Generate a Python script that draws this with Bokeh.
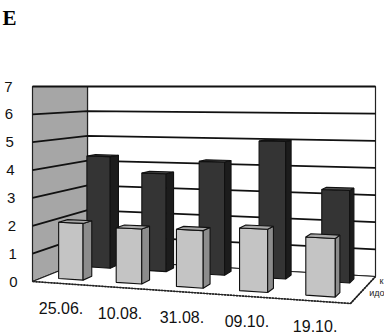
import numpy as np
from bokeh.plotting import figure
from bokeh.models import Range1d
from bokeh.core.properties import value
from bokeh.embed import file_html
from bokeh.resources import INLINE

# ---------------- data ----------------
categories = ["25.06.", "10.08.", "31.08.", "09.10.", "19.10."]
front_values = [2.05, 1.95, 2.0, 2.15, 1.95]   # light series (front row)
back_values = [4.3, 3.7, 4.2, 5.0, 3.3]        # dark series (back row)
series_labels = ["идо", "к"]                  # front, back (cut at right edge)
y_ticks = [0, 1, 2, 3, 4, 5, 6, 7]
panel_label = "E"

# ---------------- layout (perspective frame) ----------------
W, H = 384, 334
Y_MAX = 7.0
HORIZON = 86.0
FL, FR, BR, BL = (32, 281), (350, 303), (375, 276), (87, 259)
BAR_HALF_W = 0.043
SERIES_Z = [(0.17, 0.33), (0.69, 0.86)]  # front row, back row

src = [(0, 0), (1, 0), (1, 1), (0, 1)]
dst = [FL, FR, BR, BL]
A, b = [], []
for (X, Z), (x, y) in zip(src, dst):
    A.append([X, Z, 1, 0, 0, 0, -X * x, -Z * x]); b.append(x)
    A.append([0, 0, 0, X, Z, 1, -X * y, -Z * y]); b.append(y)
hm = np.linalg.solve(np.array(A, float), np.array(b, float))


def floor_pt(X, Z):
    w = hm[6] * X + hm[7] * Z + 1
    return (hm[0] * X + hm[1] * Z + hm[2]) / w, (hm[3] * X + hm[4] * Z + hm[5]) / w


def pt(X, Z, v):
    x, yf = floor_pt(X, Z)
    return x, HORIZON + (yf - HORIZON) * (1 - v / Y_MAX)


def poly(points):
    return [q[0] for q in points], [q[1] for q in points]


p = figure(width=W, height=H, x_range=Range1d(0, W), y_range=Range1d(H, 0),
           output_backend="svg", toolbar_location=None, min_border=0)
p.axis.visible = False
p.grid.visible = False
p.outline_line_color = None
p.background_fill_color = "white"

# walls and floor
walls = [
    ([pt(0, 1, 0), pt(1, 1, 0), pt(1, 1, Y_MAX), pt(0, 1, Y_MAX)], "#ffffff"),
    ([pt(0, 0, 0), pt(0, 1, 0), pt(0, 1, Y_MAX), pt(0, 0, Y_MAX)], "#a6a6a6"),
    ([pt(0, 0, 0), pt(1, 0, 0), pt(1, 1, 0), pt(0, 1, 0)], "#ffffff"),
]
wx, wy, wc = [], [], []
for pts, c in walls:
    xs, ys = poly(pts)
    wx.append(xs); wy.append(ys); wc.append(c)
p.patches(wx, wy, fill_color=wc, line_color="#222222", line_width=1.2)

# gridlines
gx, gy = [], []
for v in y_ticks[1:]:
    a, bb, c = pt(0, 0, v), pt(0, 1, v), pt(1, 1, v)
    gx.append([a[0], bb[0], c[0]]); gy.append([a[1], bb[1], c[1]])
p.multi_line(gx, gy, line_color="#111111", line_width=1.8)

# floor front/right edge emphasis
fx, fy = poly([pt(0, 0, 0), pt(1, 0, 0), pt(1, 1, 0)])
p.line(fx, fy, line_color="#222222", line_width=1.6, line_dash="2 1")

# bars
bx, by, bc = [], [], []
series = [(back_values, SERIES_Z[1], ["#343434", "#1c1c1c", "#505050"]),
          (front_values, SERIES_Z[0], ["#c4c4c4", "#8c8c8c", "#a9a9a9"])]
for vals, (z0, z1), cols in series:
    for i, v in enumerate(vals):
        c = (i + 0.5) / len(categories)
        x0, x1 = c - BAR_HALF_W, c + BAR_HALF_W
        faces = [
            [pt(x0, z0, 0), pt(x1, z0, 0), pt(x1, z0, v), pt(x0, z0, v)],
            [pt(x1, z0, 0), pt(x1, z1, 0), pt(x1, z1, v), pt(x1, z0, v)],
            [pt(x0, z0, v), pt(x1, z0, v), pt(x1, z1, v), pt(x0, z1, v)],
        ]
        for f, col in zip(faces, cols):
            xs, ys = poly(f)
            bx.append(xs); by.append(ys); bc.append(col)
p.patches(bx, by, fill_color=bc, line_color="#111111", line_width=1.1)

# y tick labels
tx = [17 - 5 * v / Y_MAX for v in y_ticks]
ty = [pt(0, 0, v)[1] for v in y_ticks]
p.text(tx, ty, text=[str(v) for v in y_ticks], text_align="right",
       text_baseline="middle", text_font=value("Liberation Sans"),
       text_font_size="15px", text_color="#111111")

# category labels
cx, cy = [], []
for i in range(len(categories)):
    x, y = pt((i + 0.5) / len(categories), 0, 0)
    cx.append(x); cy.append(y + 25)
p.text(cx, cy, text=categories, text_align="center", text_baseline="middle",
       text_font=value("Liberation Sans"), text_font_size="16px",
       text_color="#111111")

# series labels on the right
sx, sy = [], []
for (z0, z1), off in zip(SERIES_Z, [(12, -3), (9, -1)]):
    x, y = pt(1, (z0 + z1) / 2, 0)
    sx.append(x + off[0]); sy.append(y + off[1])
p.text(sx, sy, text=series_labels, text_align="left", text_baseline="middle",
       text_font=value("Liberation Sans"), text_font_size="9px",
       text_color="#222222")

# panel letter
p.text([2], [17], text=[panel_label], text_align="left",
       text_baseline="alphabetic", text_font=value("Liberation Serif"),
       text_font_style="bold", text_font_size="21px", text_color="#000000")

html = file_html(p, INLINE)
html = html.replace("</head>", "<style>html,body{margin:0;padding:0;overflow:hidden;}</style></head>", 1)
open("out.html", "w").write(html)
